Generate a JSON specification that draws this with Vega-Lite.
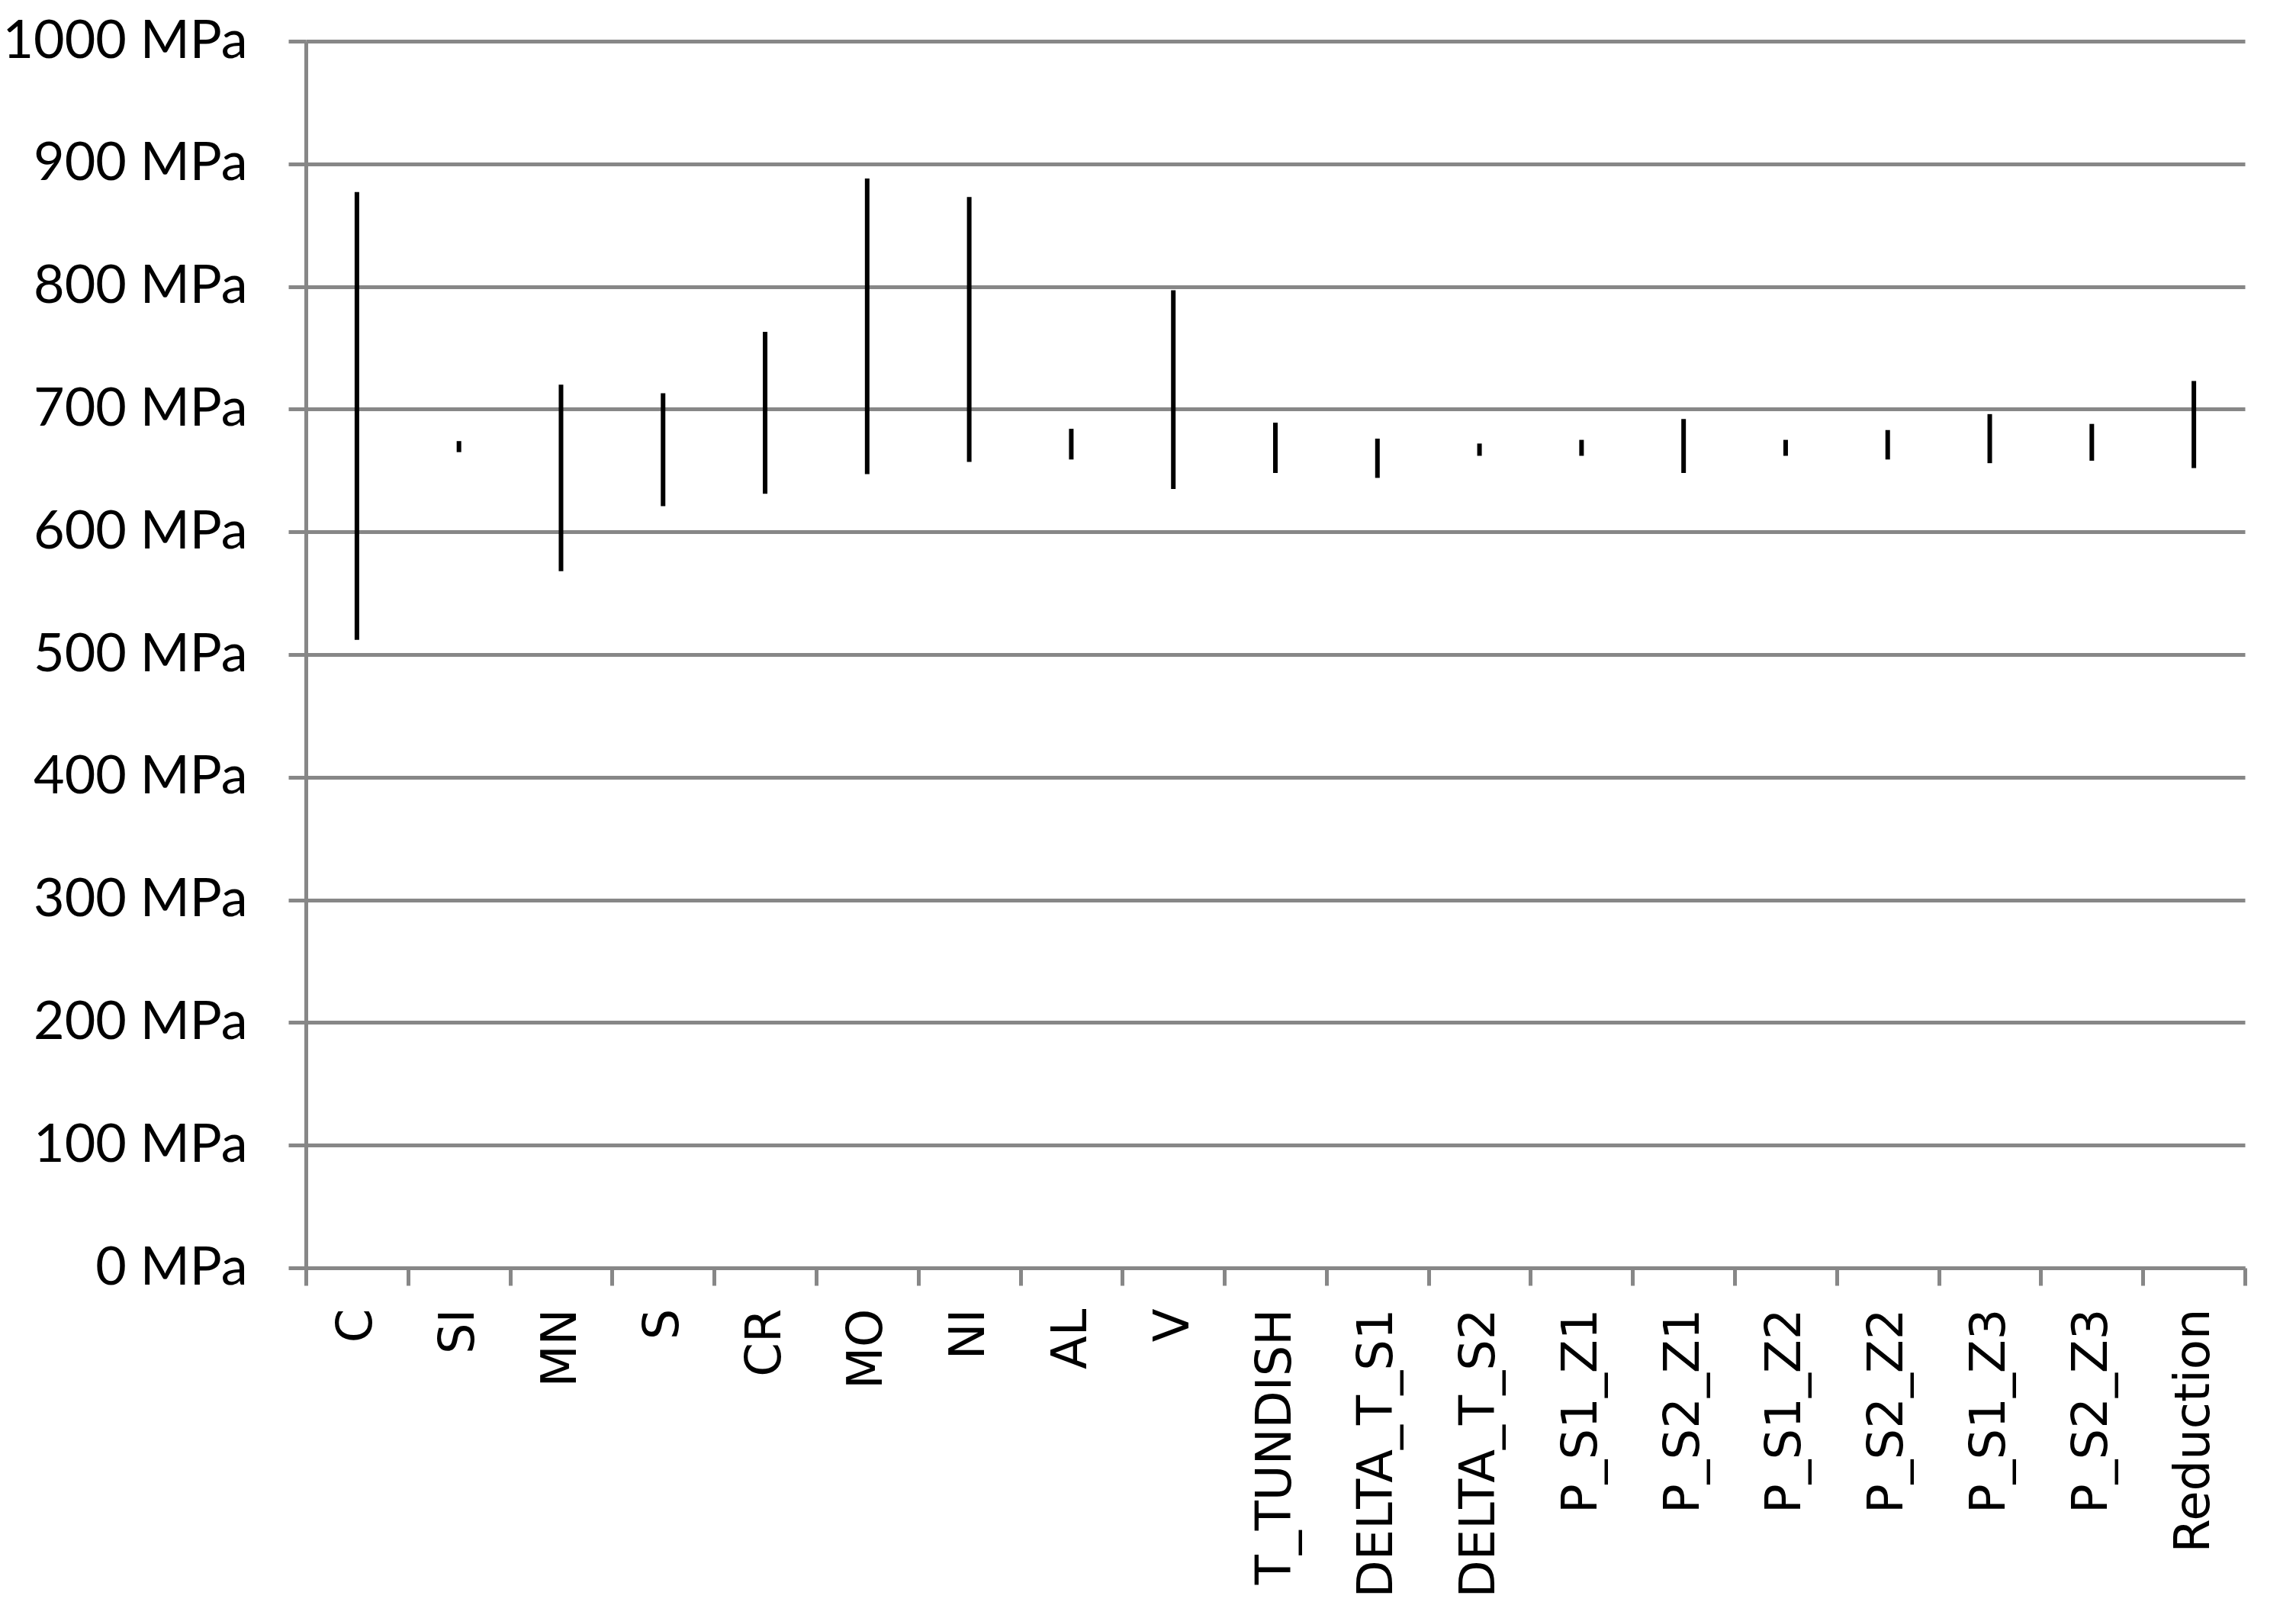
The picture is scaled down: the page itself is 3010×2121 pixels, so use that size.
{
  "$schema": "https://vega.github.io/schema/vega-lite/v6.json",
  "width": 2542,
  "height": 1608,
  "autosize": "none",
  "padding": {"left": 401, "top": 54, "right": 67, "bottom": 459},
  "background": "white",
  "config": {"view": {"stroke": null}},
  "data": {
    "values": [
      {"param": "C", "lo": 512, "hi": 877},
      {"param": "SI", "lo": 665, "hi": 674},
      {"param": "MN", "lo": 568, "hi": 720},
      {"param": "S", "lo": 621, "hi": 713},
      {"param": "CR", "lo": 631, "hi": 763},
      {"param": "MO", "lo": 647, "hi": 888},
      {"param": "NI", "lo": 657, "hi": 873},
      {"param": "AL", "lo": 659, "hi": 684},
      {"param": "V", "lo": 635, "hi": 797},
      {"param": "T_TUNDISH", "lo": 648, "hi": 689},
      {"param": "DELTA_T_S1", "lo": 644, "hi": 676},
      {"param": "DELTA_T_S2", "lo": 662, "hi": 672},
      {"param": "P_S1_Z1", "lo": 662, "hi": 675},
      {"param": "P_S2_Z1", "lo": 648, "hi": 692},
      {"param": "P_S1_Z2", "lo": 662, "hi": 675},
      {"param": "P_S2_Z2", "lo": 659, "hi": 683},
      {"param": "P_S1_Z3", "lo": 656, "hi": 696},
      {"param": "P_S2_Z3", "lo": 658, "hi": 688},
      {"param": "Reduction", "lo": 652, "hi": 723}
    ]
  },
  "mark": {"type": "rule", "color": "black", "strokeWidth": 6},
  "encoding": {
    "x": {
      "field": "param",
      "type": "nominal",
      "sort": null,
      "scale": {"type": "band", "paddingInner": 0, "paddingOuter": 0},
      "axis": {
        "title": null,
        "labelAngle": -90,
        "labelFont": "DejaVu Sans",
        "labelFontSize": 64,
        "labelColor": "black",
        "labelPadding": 30,
        "labelLimit": 2000,
        "labelOverlap": false,
        "tickBand": "extent",
        "tickSize": 23,
        "tickWidth": 5,
        "tickColor": "#878787",
        "domainColor": "#878787",
        "domainWidth": 5,
        "grid": false
      }
    },
    "y": {
      "field": "lo",
      "type": "quantitative",
      "scale": {"domain": [0, 1000], "nice": false},
      "axis": {
        "title": null,
        "values": [0, 100, 200, 300, 400, 500, 600, 700, 800, 900, 1000],
        "labelExpr": "datum.value + ' MPa'",
        "labelFont": "Lato",
        "labelFontSize": 70,
        "labelColor": "black",
        "labelPadding": 54,
        "labelLimit": 2000,
        "labelOverlap": false,
        "tickSize": 23,
        "tickWidth": 5,
        "tickColor": "#878787",
        "domainColor": "#878787",
        "domainWidth": 5,
        "grid": true,
        "gridColor": "#878787",
        "gridWidth": 5,
        "gridOpacity": 1
      }
    },
    "y2": {"field": "hi"}
  }
}
